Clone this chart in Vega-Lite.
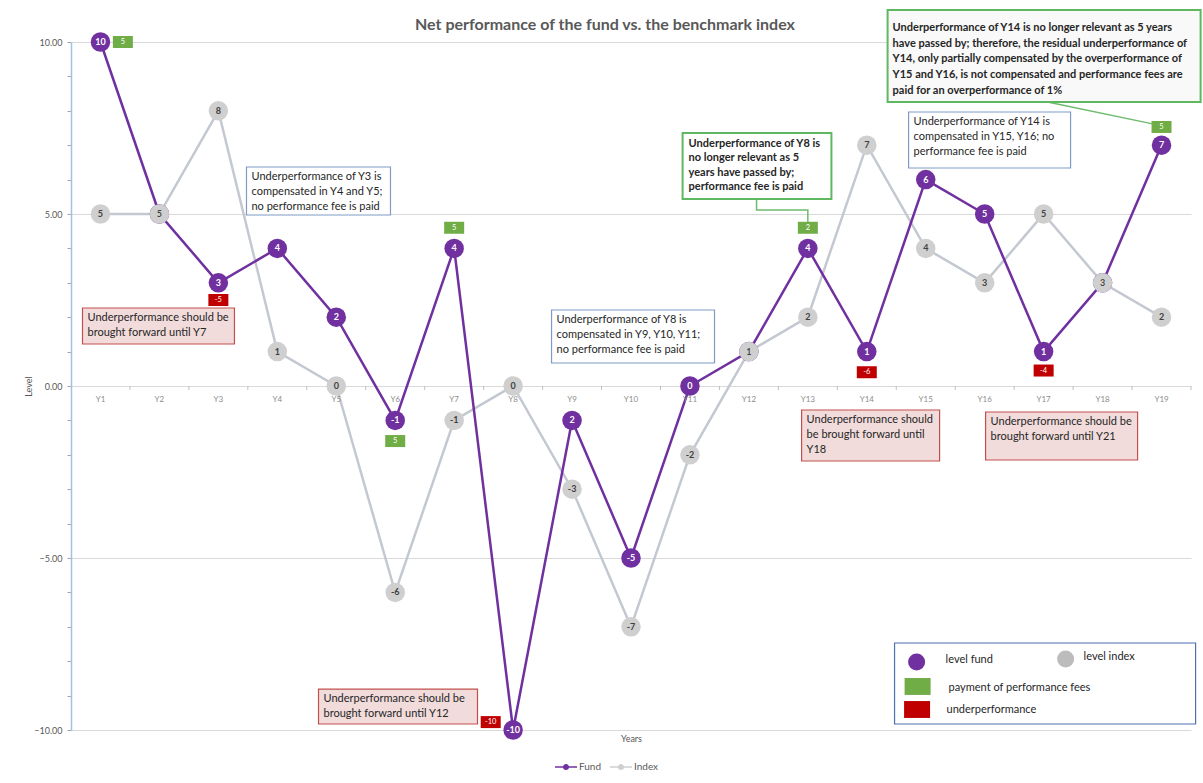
{
  "$schema": "https://vega.github.io/schema/vega-lite/v6.json",
  "width": 1120,
  "height": 688,
  "autosize": {"type": "none"},
  "padding": {"left": 71, "top": 42, "right": 12, "bottom": 53},
  "background": "white",
  "config": {"view": {"stroke": null}, "font": "Lato"},
  "title": {"text": "Net performance of the fund vs. the benchmark index", "fontSize": 16, "fontWeight": "bold", "color": "#595959", "font": "Lato", "offset": -24, "dx": -26},
  "datasets": {
    "series": [
      {"x": 1, "name": "Y1", "series": "Fund", "y": 10, "label": "10"},
      {"x": 2, "name": "Y2", "series": "Fund", "y": 5, "label": "5"},
      {"x": 3, "name": "Y3", "series": "Fund", "y": 3, "label": "3"},
      {"x": 4, "name": "Y4", "series": "Fund", "y": 4, "label": "4"},
      {"x": 5, "name": "Y5", "series": "Fund", "y": 2, "label": "2"},
      {"x": 6, "name": "Y6", "series": "Fund", "y": -1, "label": "-1"},
      {"x": 7, "name": "Y7", "series": "Fund", "y": 4, "label": "4"},
      {"x": 8, "name": "Y8", "series": "Fund", "y": -10, "label": "-10"},
      {"x": 9, "name": "Y9", "series": "Fund", "y": -1, "label": "2"},
      {"x": 10, "name": "Y10", "series": "Fund", "y": -5, "label": "-5"},
      {"x": 11, "name": "Y11", "series": "Fund", "y": 0, "label": "0"},
      {"x": 12, "name": "Y12", "series": "Fund", "y": 1, "label": "1"},
      {"x": 13, "name": "Y13", "series": "Fund", "y": 4, "label": "4"},
      {"x": 14, "name": "Y14", "series": "Fund", "y": 1, "label": "1"},
      {"x": 15, "name": "Y15", "series": "Fund", "y": 6, "label": "6"},
      {"x": 16, "name": "Y16", "series": "Fund", "y": 5, "label": "5"},
      {"x": 17, "name": "Y17", "series": "Fund", "y": 1, "label": "1"},
      {"x": 18, "name": "Y18", "series": "Fund", "y": 3, "label": "3"},
      {"x": 19, "name": "Y19", "series": "Fund", "y": 7, "label": "7"},
      {"x": 1, "name": "Y1", "series": "Index", "y": 5, "label": "5"},
      {"x": 2, "name": "Y2", "series": "Index", "y": 5, "label": "5"},
      {"x": 3, "name": "Y3", "series": "Index", "y": 8, "label": "8"},
      {"x": 4, "name": "Y4", "series": "Index", "y": 1, "label": "1"},
      {"x": 5, "name": "Y5", "series": "Index", "y": 0, "label": "0"},
      {"x": 6, "name": "Y6", "series": "Index", "y": -6, "label": "-6"},
      {"x": 7, "name": "Y7", "series": "Index", "y": -1, "label": "-1"},
      {"x": 8, "name": "Y8", "series": "Index", "y": 0, "label": "0"},
      {"x": 9, "name": "Y9", "series": "Index", "y": -3, "label": "-3"},
      {"x": 10, "name": "Y10", "series": "Index", "y": -7, "label": "-7"},
      {"x": 11, "name": "Y11", "series": "Index", "y": -2, "label": "-2"},
      {"x": 12, "name": "Y12", "series": "Index", "y": 1, "label": "1"},
      {"x": 13, "name": "Y13", "series": "Index", "y": 2, "label": "2"},
      {"x": 14, "name": "Y14", "series": "Index", "y": 7, "label": "7"},
      {"x": 15, "name": "Y15", "series": "Index", "y": 4, "label": "4"},
      {"x": 16, "name": "Y16", "series": "Index", "y": 3, "label": "3"},
      {"x": 17, "name": "Y17", "series": "Index", "y": 5, "label": "5"},
      {"x": 18, "name": "Y18", "series": "Index", "y": 3, "label": "3"},
      {"x": 19, "name": "Y19", "series": "Index", "y": 2, "label": "2"}
    ],
    "fees": [
      {"x": 1.38, "y": 10, "t": "5", "kind": "fee"},
      {"x": 6, "y": -1.6, "t": "5", "kind": "fee"},
      {"x": 7, "y": 4.6, "t": "5", "kind": "fee"},
      {"x": 13, "y": 4.6, "t": "2", "kind": "fee"},
      {"x": 19, "y": 7.53, "t": "5", "kind": "fee"},
      {"x": 3, "y": 2.5, "t": "-5", "kind": "under"},
      {"x": 7.62, "y": -9.77, "t": "-10", "kind": "under"},
      {"x": 14, "y": 0.4, "t": "-6", "kind": "under"},
      {"x": 17, "y": 0.45, "t": "-4", "kind": "under"}
    ],
    "boxes": [
      {"x": 0.695, "x2": 3.273, "y": 2.267, "y2": 1.221, "kind": "red", "text": "Underperformance should be\nbrought forward until Y7"},
      {"x": 3.477, "x2": 5.92, "y": 6.366, "y2": 4.971, "kind": "blue", "text": "Underperformance of Y3 is\ncompensated in Y4 and Y5;\nno performance fee is paid"},
      {"x": 4.699, "x2": 7.396, "y": -8.81, "y2": -9.826, "kind": "red", "text": "Underperformance should be\nbrought forward until Y12"},
      {"x": 8.652, "x2": 11.417, "y": 2.209, "y2": 0.669, "kind": "blue", "text": "Underperformance of Y8 is\ncompensated in Y9, Y10, Y11;\nno performance fee is paid"},
      {"x": 10.875, "x2": 13.4, "y": 7.355, "y2": 5.436, "kind": "green", "text": "Underperformance of Y8 is\nno longer relevant as 5\nyears have passed by;\nperformance fee is paid"},
      {"x": 12.894, "x2": 15.235, "y": -0.698, "y2": -2.18, "kind": "red", "text": "Underperformance should\nbe brought forward until\nY18"},
      {"x": 14.709, "x2": 17.457, "y": 7.965, "y2": 6.337, "kind": "blue", "text": "Underperformance of Y14 is\ncompensated in Y15, Y16; no\nperformance fee is paid"},
      {"x": 16.015, "x2": 18.594, "y": -0.756, "y2": -2.151, "kind": "red", "text": "Underperformance should be\nbrought forward until Y21"},
      {"x": 14.353, "x2": 19.663, "y": 10.93, "y2": 8.256, "kind": "green2", "text": "Underperformance of Y14 is no longer relevant as 5 years\nhave passed by; therefore, the residual underperformance of\nY14, only partially compensated by the overperformance of\nY15 and Y16, is not compensated and performance fees are\npaid for an overperformance of 1%"},
      {"x": 14.471, "x2": 19.578, "y": -7.471, "y2": -9.826, "kind": "key", "text": ""}
    ],
    "connectors": [
      {"id": "a", "seq": 1, "x": 12.13, "y": 5.436},
      {"id": "a", "seq": 2, "x": 12.13, "y": 5.116},
      {"id": "a", "seq": 3, "x": 13.0, "y": 5.116},
      {"id": "a", "seq": 4, "x": 13.0, "y": 4.77},
      {"id": "b", "seq": 1, "x": 17.067, "y": 8.256},
      {"id": "b", "seq": 2, "x": 18.85, "y": 7.62}
    ],
    "keys": [
      {"x": 14.845, "y": -8.023, "kind": "fund", "t": "level fund", "tx": 15.337, "ty": -7.965},
      {"x": 17.373, "y": -7.936, "kind": "index", "t": "level index", "tx": 17.678, "ty": -7.878},
      {"x": 14.862, "y": -8.735, "kind": "fee", "t": "payment of performance fees", "tx": 15.387, "ty": -8.779},
      {"x": 14.853, "y": -9.404, "kind": "under", "t": "underperformance", "tx": 15.353, "ty": -9.419}
    ]
  },
  "encoding": {
    "x": {"field": "x", "type": "quantitative", "scale": {"domain": [0.5, 19.5], "nice": false, "zero": false},
      "axis": {"labels": false, "ticks": false, "domain": false, "grid": false, "title": "Years", "titleFontSize": 9, "titleFontWeight": "normal", "titleColor": "#595959", "titleFont": "Lato", "titlePadding": 4}},
    "y": {"field": "y", "type": "quantitative", "scale": {"domain": [-10, 10], "nice": false, "zero": false},
      "axis": {"values": [-10,-9,-8,-7,-6,-5,-4,-3,-2,-1,0,1,2,3,4,5,6,7,8,9,10],
        "labelExpr": "datum.value % 5 === 0 ? format(datum.value, '.2f') : ''",
        "labelOverlap": false, "grid": true, "gridColor": "#d9d9d9",
        "gridOpacity": {"condition": {"test": "datum.value % 5 === 0", "value": 1}, "value": 0},
        "tickSize": 4, "tickColor": "#a6a6a6", "domainColor": "#9dc3e6", "domainWidth": 1.5,
        "labelFontSize": 9, "labelColor": "#595959", "labelFont": "Lato", "labelPadding": 5,
        "title": "Level", "titleFontSize": 9, "titleFontWeight": "normal", "titleColor": "#595959", "titleFont": "Lato", "titlePadding": 0}}
  },
  "layer": [
    {"data": {"name": "series"}, "transform": [{"filter": "datum.series === 'Index'"}],
     "mark": {"type": "line", "color": "#c3c8d1", "strokeWidth": 2.5}, "encoding": {}},
    {"data": {"name": "series"}, "transform": [{"filter": "datum.series === 'Fund'"}],
     "mark": {"type": "line", "color": "#7030a0", "strokeWidth": 2.5}, "encoding": {}},
    {"data": {"name": "series"}, "transform": [{"filter": "datum.series === 'Fund'"}],
     "mark": {"type": "point", "shape": "M1,0V0.1357", "size": 3474, "stroke": "#bfbfbf", "strokeWidth": 1, "filled": false, "opacity": 1},
     "encoding": {"y": {"datum": 0}}},
    {"data": {"name": "series"}, "transform": [{"filter": "datum.series === 'Fund'"}],
     "mark": {"type": "text", "fontSize": 8, "color": "#8c8c8c", "dy": 14, "baseline": "middle"},
     "encoding": {"y": {"datum": 0}, "text": {"field": "name"}}},
    {"data": {"name": "series"},
     "mark": {"type": "point", "filled": true, "shape": "circle", "size": 380, "opacity": 1},
     "encoding": {"color": {"field": "series", "type": "nominal",
        "scale": {"domain": ["Fund", "Index"], "range": ["#7030a0", "#cfcfcf"]},
        "legend": {"orient": "none", "legendX": 484, "legendY": 714, "direction": "horizontal", "title": null,
          "symbolType": "M-1,-0.07H1V0.07H-1Z M0.28,0A0.28,0.28,0,1,1,-0.28,0A0.28,0.28,0,1,1,0.28,0Z",
          "symbolSize": 484, "symbolStrokeWidth": 0, "symbolOpacity": 1, "labelFontSize": 10, "labelColor": "#595959",
          "labelFont": "Lato", "columnPadding": 8, "labelOffset": 2}}}},
    {"data": {"name": "series"},
     "mark": {"type": "text", "fontSize": 9, "fontWeight": "bold", "baseline": "middle", "align": "center"},
     "encoding": {"text": {"field": "label"},
       "color": {"condition": {"test": "datum.series === 'Fund'", "value": "#ffffff"}, "value": "#404040"}}},
    {"data": {"name": "fees"},
     "mark": {"type": "point", "shape": "M-1,-0.6H1V0.6H-1Z", "size": 400, "filled": true, "opacity": 1, "strokeWidth": 0},
     "encoding": {"fill": {"condition": {"test": "datum.kind === 'fee'", "value": "#70ad47"}, "value": "#c00000"}}},
    {"data": {"name": "fees"},
     "mark": {"type": "text", "fontSize": 7.5, "color": "#ffffff", "baseline": "middle", "align": "center"},
     "encoding": {"text": {"field": "t"}}},
    {"data": {"name": "connectors"},
     "mark": {"type": "line", "color": "#6dbb6d", "strokeWidth": 1.5},
     "encoding": {"detail": {"field": "id"}, "order": {"field": "seq"}}},
    {"data": {"name": "boxes"},
     "mark": {"type": "rect"},
     "encoding": {"x2": {"field": "x2"}, "y2": {"field": "y2"},
       "fill": {"condition": [{"test": "datum.kind === 'red'", "value": "#f2dcdb"}, {"test": "datum.kind === 'green2'", "value": "#f9f9f9"}], "value": "#ffffff"},
       "stroke": {"condition": [{"test": "datum.kind === 'red'", "value": "#c0504d"}, {"test": "datum.kind === 'green' || datum.kind === 'green2'", "value": "#5fb760"}, {"test": "datum.kind === 'key'", "value": "#4f6fae"}], "value": "#7f9bc6"},
       "strokeWidth": {"condition": {"test": "datum.kind === 'green' || datum.kind === 'green2'", "value": 2}, "value": 1.2}}},
    {"data": {"name": "boxes"}, "transform": [{"filter": "datum.kind === 'red' || datum.kind === 'blue'"}],
     "mark": {"type": "text", "align": "left", "baseline": "top", "dx": 5, "dy": 4, "lineBreak": "\n", "lineHeight": 15, "fontSize": 11, "color": "#262626"},
     "encoding": {"text": {"field": "text"}}},
    {"data": {"name": "boxes"}, "transform": [{"filter": "datum.kind === 'green'"}],
     "mark": {"type": "text", "align": "left", "baseline": "top", "dx": 6, "dy": 5, "lineBreak": "\n", "lineHeight": 14.5, "fontSize": 11, "fontWeight": "bold", "color": "#262626"},
     "encoding": {"text": {"field": "text"}}},
    {"data": {"name": "boxes"}, "transform": [{"filter": "datum.kind === 'green2'"}],
     "mark": {"type": "text", "align": "left", "baseline": "top", "dx": 5, "dy": 12, "lineBreak": "\n", "lineHeight": 15.7, "fontSize": 11, "fontWeight": "bold", "color": "#262626"},
     "encoding": {"text": {"field": "text"}}},
    {"data": {"name": "keys"}, "transform": [{"filter": "datum.kind === 'fund' || datum.kind === 'index'"}],
     "mark": {"type": "point", "shape": "circle", "filled": true, "size": 290, "opacity": 1},
     "encoding": {"fill": {"condition": {"test": "datum.kind === 'fund'", "value": "#7030a0"}, "value": "#bcbcbc"}}},
    {"data": {"name": "keys"}, "transform": [{"filter": "datum.kind === 'fee' || datum.kind === 'under'"}],
     "mark": {"type": "point", "shape": "M-1,-0.65H1V0.65H-1Z", "filled": true, "size": 676, "opacity": 1, "strokeWidth": 0},
     "encoding": {"fill": {"condition": {"test": "datum.kind === 'fee'", "value": "#70ad47"}, "value": "#c00000"}}},
    {"data": {"name": "keys"},
     "mark": {"type": "text", "align": "left", "baseline": "middle", "fontSize": 11, "color": "#262626"},
     "encoding": {"x": {"field": "tx", "type": "quantitative"}, "y": {"field": "ty", "type": "quantitative"}, "text": {"field": "t"}}}
  ]
}
